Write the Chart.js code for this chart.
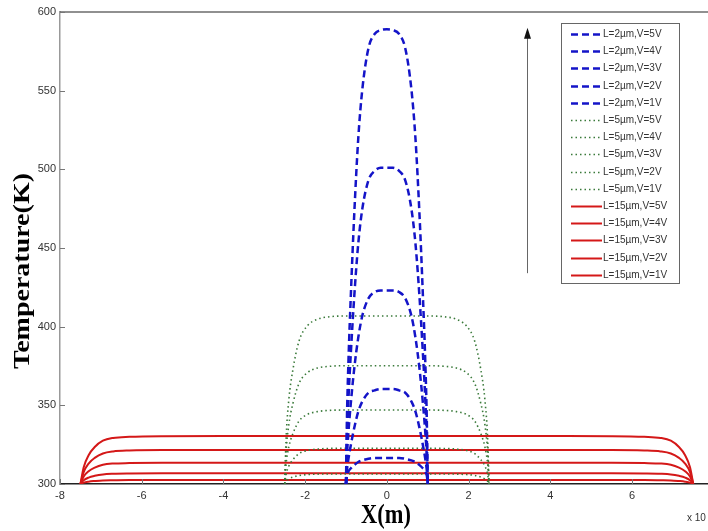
<!DOCTYPE html>
<html>
<head>
<meta charset="utf-8">
<script src="https://cdn.jsdelivr.net/npm/chart.js@4.4.1/dist/chart.umd.min.js"></script>
<style>
html,body{margin:0;padding:0;background:#fff;overflow:hidden;}
canvas{display:block;}
</style>
</head>
<body>
<canvas id="c" width="708" height="531"></canvas>
<script>
// ---- Data (x in units of 1e-6 m, temperature in K) ----
const xTicks = [-8, -6, -4, -2, 0, 2, 4, 6];
const yTicks = [300, 350, 400, 450, 500, 550, 600];

const xL2 = [-1,-0.98,-0.94,-0.88,-0.8,-0.7,-0.6,-0.45,-0.3,-0.15,0,0.15,0.3,0.45,0.6,0.7,0.8,0.88,0.94,0.98,1];
const tL2V5 = [300,337.6,378,421,470.5,519.6,551,577,586,588.5,589,588.5,586,577,551,519.6,470.5,421,378,337.6,300];
const tL2V4 = [300,326,354,384,418.5,452.8,475,493,499,501,501,501,499,493,475,452.8,418.5,384,354,326,300];
const tL2V3 = [300,316,333,352,373,393,407,418,422,423,423,423,422,418,407,393,373,352,333,316,300];
const tL2V2 = [300,308,316,325,335.5,346,352.5,358,359.5,360.4,360.4,360.4,359.5,358,352.5,346,335.5,325,316,308,300];
const tL2V1 = [300,305,308,310,312,314,315,316,316.5,316.5,316.5,316.5,316.5,316,315,314,312,310,308,305,300];

const xL5 = [-2.5,-2.47,-2.4,-2.3,-2.15,-1.95,-1.7,-1.4,-1,-0.5,0,0.5,1,1.4,1.7,1.95,2.15,2.3,2.4,2.47,2.5];
const tL5V5 = [300,326.7,353.4,372.6,390.8,400.4,404.7,406.3,406.8,406.8,406.8,406.8,406.8,406.3,404.7,400.4,390.8,372.6,353.4,326.7,300];
const tL5V4 = [300,318.8,337.6,351.1,363.9,370.7,373.7,374.8,375.2,375.2,375.2,375.2,375.2,374.8,373.7,370.7,363.9,351.1,337.6,318.8,300];
const tL5V3 = [300,311.8,323.5,332,340,344.2,346,346.8,347,347,347,347,347,346.8,346,344.2,340,332,323.5,311.8,300];
const tL5V2 = [300,305.7,311.4,315.4,319.3,321.3,322.2,322.6,322.7,322.7,322.7,322.7,322.7,322.6,322.2,321.3,319.3,315.4,311.4,305.7,300];
const tL5V1 = [300,301.6,303.2,304.4,305.4,306,306.3,306.4,306.4,306.4,306.4,306.4,306.4,306.4,306.3,306,305.4,304.4,303.2,301.6,300];

const xL15 = [-7.5,-7.42,-7.3,-7.15,-6.95,-6.7,-6.3,-5.5,-4,-2,0,2,4,5.5,6.3,6.7,6.95,7.15,7.3,7.42,7.5];
const tL15V5 = [300,310.7,318.3,323.5,327.5,329.3,330,330.4,330.5,330.5,330.5,330.5,330.5,330.4,330,329.3,327.5,323.5,318.3,310.7,300];
const tL15V4 = [300,307.6,313,316.6,319.4,320.7,321.3,321.6,321.6,321.6,321.6,321.6,321.6,321.6,321.3,320.7,319.4,316.6,313,307.6,300];
const tL15V3 = [300,304.7,308.1,310.4,312.2,313,313.3,313.5,313.5,313.5,313.5,313.5,313.5,313.5,313.3,313,312.2,310.4,308.1,304.7,300];
const tL15V2 = [300,302.4,304.1,305.2,306.1,306.5,306.7,306.8,306.8,306.8,306.8,306.8,306.8,306.8,306.7,306.5,306.1,305.2,304.1,302.4,300];
const tL15V1 = [300,300.9,301.5,301.9,302.3,302.4,302.5,302.5,302.5,302.5,302.5,302.5,302.5,302.5,302.5,302.4,302.3,301.9,301.5,300.9,300];

const seriesLabels = [
  'L=2µm,V=5V','L=2µm,V=4V','L=2µm,V=3V','L=2µm,V=2V','L=2µm,V=1V',
  'L=5µm,V=5V','L=5µm,V=4V','L=5µm,V=3V','L=5µm,V=2V','L=5µm,V=1V',
  'L=15µm,V=5V','L=15µm,V=4V','L=15µm,V=3V','L=15µm,V=2V','L=15µm,V=1V'
];
const arrowX = 3.43, arrowFrom = 434, arrowTo = 590;

// ---- Styles ----
const BLUE = '#1414c8', GREEN = '#3a7a3a', RED = '#d41818';
function pts(xs, ys){ return xs.map((v,i)=>({x:v, y:ys[i]})); }
function ds(label, xs, ys, color, dash, width){
  return {label, data: pts(xs, ys), borderColor: color, borderDash: dash, borderWidth: width,
    pointRadius: 0, fill: false, cubicInterpolationMode: 'monotone', tension: 0.4};
}
const seriesX = [xL2,xL2,xL2,xL2,xL2,xL5,xL5,xL5,xL5,xL5,xL15,xL15,xL15,xL15,xL15];
const seriesY = [tL2V5,tL2V4,tL2V3,tL2V2,tL2V1,tL5V5,tL5V4,tL5V3,tL5V2,tL5V1,tL15V5,tL15V4,tL15V3,tL15V2,tL15V1];
const datasets = seriesLabels.map((lab,i)=>{
  if (i < 5) return ds(lab, seriesX[i], seriesY[i], BLUE, [7,4], 2.5);
  if (i < 10) return ds(lab, seriesX[i], seriesY[i], GREEN, [1.5,3], 1.6);
  return ds(lab, seriesX[i], seriesY[i], RED, [], 2);
});

const TICKFONT = '"Liberation Sans Narrow","Liberation Sans",Arial,sans-serif';

const deco = {
  id: 'deco',
  afterDraw(chart){
    const ctx = chart.ctx, a = chart.chartArea;
    const xs = chart.scales.x, ys = chart.scales.y;
    ctx.save();
    // top border
    ctx.strokeStyle = '#222'; ctx.lineWidth = 1.2;
    ctx.beginPath(); ctx.moveTo(a.left, a.top); ctx.lineTo(a.right, a.top); ctx.stroke();
    // inward ticks
    ctx.strokeStyle = '#777'; ctx.lineWidth = 1;
    xs.ticks.forEach(t=>{ const px = Math.round(xs.getPixelForValue(t.value))+0.5;
      ctx.beginPath(); ctx.moveTo(px, a.bottom); ctx.lineTo(px, a.bottom-5); ctx.stroke(); });
    ys.ticks.forEach(t=>{ const py = Math.round(ys.getPixelForValue(t.value))+0.5;
      ctx.beginPath(); ctx.moveTo(a.left, py); ctx.lineTo(a.left+5, py); ctx.stroke(); });
    // arrow
    const ax = Math.round(xs.getPixelForValue(arrowX))+0.5;
    const y1 = ys.getPixelForValue(arrowFrom), y2 = ys.getPixelForValue(arrowTo);
    ctx.strokeStyle = '#666'; ctx.lineWidth = 1;
    ctx.beginPath(); ctx.moveTo(ax, y1); ctx.lineTo(ax, y2+8); ctx.stroke();
    ctx.fillStyle = '#111';
    ctx.beginPath(); ctx.moveTo(ax, y2); ctx.lineTo(ax-3.5, y2+11); ctx.lineTo(ax+3.5, y2+11); ctx.closePath(); ctx.fill();
    // legend
    const lx = 561, ly = 23, lw = 118, lh = 260;
    ctx.fillStyle = '#fff'; ctx.fillRect(lx, ly, lw, lh);
    ctx.strokeStyle = '#666'; ctx.lineWidth = 1;
    ctx.strokeRect(lx+0.5, ly+0.5, lw, lh);
    ctx.font = '10px "Liberation Sans",Arial,sans-serif';
    ctx.textBaseline = 'middle'; ctx.textAlign = 'left';
    chart.data.datasets.forEach((d,i)=>{
      const yy = Math.round(34 + i*17.2)+0.5;
      ctx.save();
      ctx.strokeStyle = d.borderColor; ctx.lineWidth = d.borderWidth;
      ctx.setLineDash(d.borderDash || []);
      ctx.beginPath(); ctx.moveTo(571, yy); ctx.lineTo(602, yy); ctx.stroke();
      ctx.restore();
      ctx.fillStyle = '#333';
      ctx.fillText(d.label, 603, yy);
    });
    // axis titles (slightly condensed like the original)
    ctx.fillStyle = '#000';
    ctx.font = 'bold 28px "Liberation Serif","Times New Roman",serif';
    ctx.textAlign = 'center'; ctx.textBaseline = 'middle';
    ctx.save(); ctx.translate(386, 516); ctx.scale(0.8, 1); ctx.fillText('X(m)', 0, 0); ctx.restore();
    ctx.save(); ctx.translate(23, 271); ctx.rotate(-Math.PI/2); ctx.scale(1, 0.8); ctx.fillText('Temperature(K)', 0, 0); ctx.restore();
    // exponent label
    ctx.font = '10px ' + TICKFONT; ctx.fillStyle = '#333'; ctx.textAlign = 'left';
    ctx.fillText('x 10', 687, 518);
    ctx.font = '8px ' + TICKFONT; ctx.fillText('-6', 708, 512);
    ctx.restore();
  }
};

new Chart(document.getElementById('c'), {
  type: 'line',
  data: { datasets },
  options: {
    responsive: false, animation: false, devicePixelRatio: 1,
    layout: { padding: { left: 0, right: 0, top: 12, bottom: 0 } },
    plugins: { legend: { display: false }, tooltip: { enabled: false } },
    scales: {
      x: { type: 'linear', min: -8, max: 7.86,
        afterBuildTicks: s => { s.ticks = xTicks.map(v=>({value:v})); },
        afterFit: s => { s.height = 47; },
        grid: { drawOnChartArea: false, drawTicks: false },
        border: { display: true, color: '#222', width: 1.5 },
        ticks: { padding: 5, color: '#333', font: { family: TICKFONT, size: 11 }, maxRotation: 0, autoSkip: false }
      },
      y: { type: 'linear', min: 300, max: 600,
        afterBuildTicks: s => { s.ticks = yTicks.map(v=>({value:v})); },
        afterFit: s => { s.width = 60; },
        grid: { drawOnChartArea: false, drawTicks: false },
        border: { display: true, color: '#999', width: 1.5 },
        ticks: { padding: 4, color: '#333', font: { family: TICKFONT, size: 11 }, autoSkip: false }
      }
    }
  },
  plugins: [deco]
});
</script>
</body>
</html>
